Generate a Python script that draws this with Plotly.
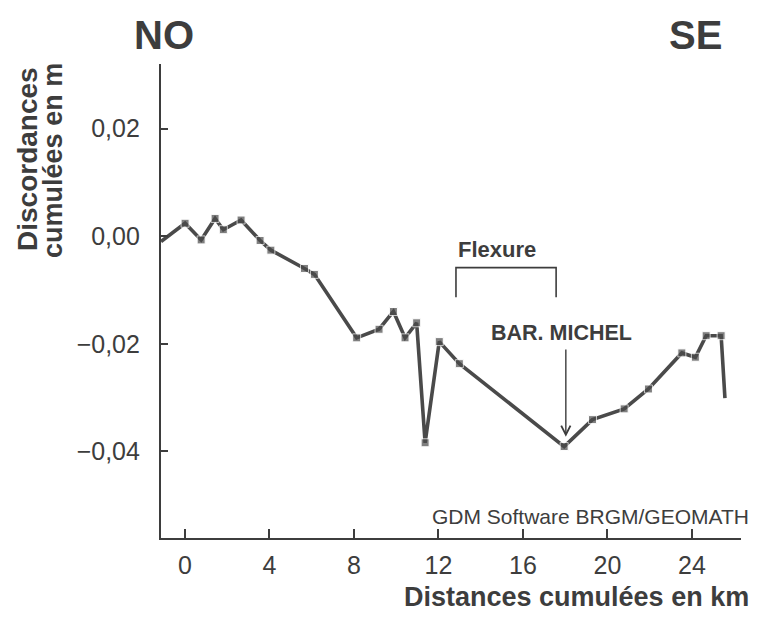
import plotly.graph_objects as go

# Data
dist_km = [-1.13, 0.01, 0.77, 1.43, 1.82, 2.66, 3.56, 4.07, 5.66, 6.13, 8.13, 9.19,
           9.87, 10.42, 10.97, 11.37, 12.04, 12.99, 17.95, 19.29, 20.79, 21.94,
           23.52, 24.16, 24.67, 25.38, 25.56]
discord_m = [-0.0010, 0.0024, -0.0007, 0.0033, 0.0012, 0.0030, -0.0008, -0.0026,
             -0.0060, -0.0071, -0.0189, -0.0173, -0.0140, -0.0189, -0.0161, -0.0384,
             -0.0196, -0.0237, -0.0391, -0.0341, -0.0321, -0.0284, -0.0217, -0.0225,
             -0.0185, -0.0185, -0.0301]
x_ticks = [0, 4, 8, 12, 16, 20, 24]
y_ticks = [0.02, 0.0, -0.02, -0.04]
y_ticktext = ["0,02", "0,00", "−0,02", "−0,04"]
flexure_x = [12.83, 17.57]
flexure_y = [-0.00585, -0.01134]
michel_arrow_x = 18.03
michel_arrow_y = [-0.0208, -0.0373]

INK = "#3d3d3d"
SANS = "Liberation Sans, Arial, Helvetica, sans-serif"

marker_sizes = [0] + [8] * (len(dist_km) - 2) + [0]

fig = go.Figure()
fig.add_trace(go.Scatter(
    x=dist_km, y=discord_m, mode="lines+markers",
    line=dict(color="#4a4a4a", width=3.6),
    marker=dict(symbol="square", size=marker_sizes, color="#4a4a4a"),
    showlegend=False, hoverinfo="skip"))

# Flexure bracket
fig.add_trace(go.Scatter(
    x=[flexure_x[0], flexure_x[0], flexure_x[1], flexure_x[1]],
    y=[flexure_y[1], flexure_y[0], flexure_y[0], flexure_y[1]],
    mode="lines", line=dict(color=INK, width=1.6),
    showlegend=False, hoverinfo="skip"))

annotations = [
    dict(text="NO", x=0.0052, y=1.062, xref="paper", yref="paper", showarrow=False,
         xanchor="center", yanchor="middle",
         font=dict(family=SANS, size=40, color=INK, weight="bold")),
    dict(text="SE", x=0.9207, y=1.062, xref="paper", yref="paper", showarrow=False,
         xanchor="center", yanchor="middle",
         font=dict(family=SANS, size=40, color=INK, weight="bold")),
    dict(text="Discordances", x=-0.229, y=0.80, xref="paper", yref="paper",
         showarrow=False, textangle=-90, xanchor="center", yanchor="middle",
         font=dict(family=SANS, size=28, color=INK, weight="bold")),
    dict(text="cumulées en m", x=-0.185, y=0.797, xref="paper", yref="paper",
         showarrow=False, textangle=-90, xanchor="center", yanchor="middle",
         font=dict(family=SANS, size=27, color=INK, weight="bold")),
    dict(text="Distances cumulées en km", x=1.017, y=-0.124, xref="paper", yref="paper",
         showarrow=False, xanchor="right", yanchor="middle",
         font=dict(family=SANS, size=27, color=INK, weight="bold")),
    dict(text="GDM Software BRGM/GEOMATH", x=1.017, y=0.0464, xref="paper", yref="paper",
         showarrow=False, xanchor="right", yanchor="middle",
         font=dict(family=SANS, size=21, color=INK)),
    dict(text="Flexure", x=14.76, y=-0.00256, xref="x", yref="y", showarrow=False,
         xanchor="center", yanchor="middle",
         font=dict(family=SANS, size=22, color=INK, weight="bold")),
    dict(text="BAR. MICHEL", x=17.83, y=-0.0180, xref="x", yref="y", showarrow=False,
         xanchor="center", yanchor="middle",
         font=dict(family=SANS, size=21.5, color=INK, weight="bold")),
    dict(text="", x=michel_arrow_x, y=michel_arrow_y[1], ax=michel_arrow_x, ay=michel_arrow_y[0],
         xref="x", yref="y", axref="x", ayref="y", showarrow=True,
         arrowhead=5, arrowsize=1.3, arrowwidth=1.4, arrowcolor=INK),
]

# The page body adds an 8px margin on each side, so the figure is sized to fit the window
fig.update_layout(
    width=754, height=606,
    margin=dict(l=153, r=21, t=56, b=76),
    paper_bgcolor="white", plot_bgcolor="white",
    annotations=annotations,
    xaxis=dict(range=[-1.13, 26.32], showgrid=False, zeroline=False,
               showline=True, linecolor=INK, linewidth=2.2,
               ticks="inside", ticklen=9, tickwidth=2, tickcolor=INK,
               tickvals=x_ticks, ticktext=[str(v) for v in x_ticks],
               tickfont=dict(family=SANS, size=25, color=INK),
               ticklabelstandoff=4),
    yaxis=dict(range=[-0.0561, 0.032], showgrid=False, zeroline=False,
               showline=True, linecolor=INK, linewidth=2.2,
               ticks="inside", ticklen=7, tickwidth=2, tickcolor=INK,
               tickvals=y_ticks, ticktext=y_ticktext,
               tickfont=dict(family=SANS, size=25, color=INK),
               ticklabelstandoff=14),
)

fig.write_html("out.html")
